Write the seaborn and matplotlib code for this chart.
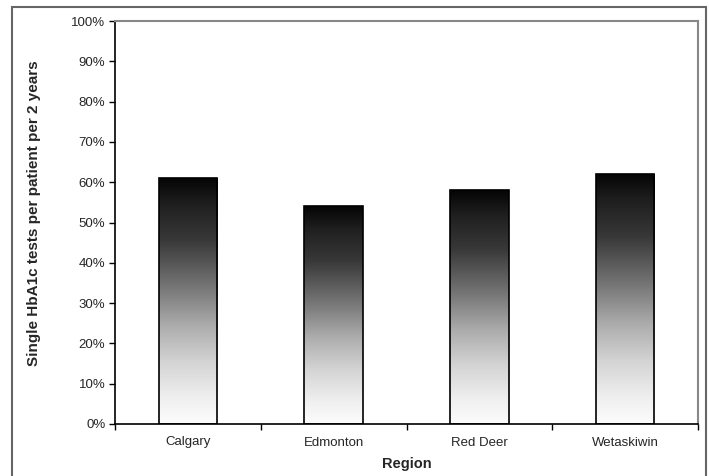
import numpy as np
import pandas as pd
import matplotlib
matplotlib.use("Agg")
import matplotlib.pyplot as plt
from matplotlib.patches import Rectangle
from matplotlib.colors import LinearSegmentedColormap
from matplotlib.ticker import FixedLocator, PercentFormatter
import seaborn as sns

regions = ["Calgary", "Edmonton", "Red Deer", "Wetaskiwin"]
single_test_pct = [61, 54, 58, 62]
y_ticks = [0, 10, 20, 30, 40, 50, 60, 70, 80, 90, 100]

sns.set_theme(style="white")
plt.rcParams["font.family"] = ["Liberation Sans", "DejaVu Sans"]

df = pd.DataFrame({"Region": regions, "Pct": single_test_pct})

fig = plt.figure(figsize=(7.09, 4.76), dpi=100)
ax = fig.add_axes([115 / 709, 1 - 424 / 476, (698 - 115) / 709, (424 - 21) / 476])

sns.barplot(data=df, x="Region", y="Pct", ax=ax, width=0.4,
            color="white", edgecolor="black", linewidth=1.2)

# vertical white-to-black gradient inside each bar
grad_cmap = LinearSegmentedColormap.from_list(
    "bar_grad", [(0.0, "#fcfcfc"), (0.1, "#f0f0f0"), (0.25, "#d4d4d4"),
                 (0.4, "#acacac"), (0.55, "#787878"), (0.75, "#383838"),
                 (0.9, "#1e1e1e"), (1.0, "#050505")])
grad = np.linspace(0, 1, 256).reshape(-1, 1)
for patch in ax.patches:
    x0, y0 = patch.get_x(), patch.get_y()
    w, h = patch.get_width(), patch.get_height()
    im = ax.imshow(grad, cmap=grad_cmap, origin="lower", aspect="auto",
                   extent=[x0, x0 + w, y0, y0 + h], zorder=patch.get_zorder() - 0.1,
                   interpolation="bilinear")
    im.set_clip_path(patch)
    patch.set_facecolor("none")
    patch.set_zorder(3)

ax.set_xlim(-0.5, len(regions) - 0.5)
ax.set_ylim(0, 100)
ax.set_yticks(y_ticks)
ax.yaxis.set_major_formatter(PercentFormatter(decimals=0))
ax.tick_params(axis="y", which="major", direction="out", length=4, width=1,
               color="black", labelsize=9.5, pad=3, left=True)
ax.tick_params(axis="x", which="major", length=0, labelsize=9.5, pad=9)
ax.xaxis.set_minor_locator(FixedLocator(np.arange(-0.5, len(regions), 1.0)))
ax.tick_params(axis="x", which="minor", direction="out", length=4, width=1,
               color="black", bottom=True)

ax.set_xlabel("Region", fontsize=10.5, fontweight="bold", labelpad=6)
ax.set_ylabel("Single HbA1c tests per patient per 2 years", fontsize=11,
              fontweight="bold")
ax.yaxis.set_label_coords(-0.127, 0.524)

for side in ["left", "bottom"]:
    ax.spines[side].set_color("black")
    ax.spines[side].set_linewidth(1.2)
for side in ["top", "right"]:
    ax.spines[side].set_visible(True)
    ax.spines[side].set_color("#888888")
    ax.spines[side].set_linewidth(1.5)

# outer frame around the chart area
fig.patches.append(Rectangle((12 / 709, -0.05), (706 - 12) / 709, 1.05 - 7 / 476,
                             transform=fig.transFigure, fill=False,
                             edgecolor="#666666", linewidth=1.5))

fig.savefig("out.png", dpi=100, facecolor="white")
